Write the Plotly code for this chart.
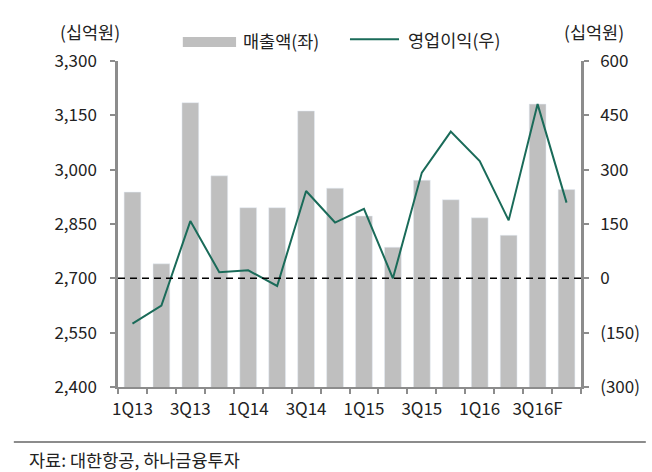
"""Korean Air quarterly revenue vs operating profit (bar + line, dual axis)."""

import plotly.graph_objects as go

QUARTERS = [
    "1Q13", "2Q13", "3Q13", "4Q13",
    "1Q14", "2Q14", "3Q14", "4Q14",
    "1Q15", "2Q15", "3Q15", "4Q15",
    "1Q16", "2Q16", "3Q16F", "4Q16F",
]
# 매출액 (좌축, 십억원)
REVENUE = [2938, 2740, 3185, 2983, 2895, 2895, 3162, 2949,
           2872, 2786, 2971, 2917, 2867, 2819, 3181, 2945]
# 영업이익 (우축, 십억원)
OP_PROFIT = [-125, -75, 158, 17, 22, -21, 241, 154,
             192, 0, 292, 405, 324, 160, 481, 209]

LEFT_TICKS = [2400, 2550, 2700, 2850, 3000, 3150, 3300]
RIGHT_TICKS = [-300, -150, 0, 150, 300, 450, 600]
RIGHT_TICK_TEXT = ["(300)", "(150)", "0", "150", "300", "450", "600"]
X_LABELS = ["1Q13", "", "3Q13", "", "1Q14", "", "3Q14", "", "1Q15", "", "3Q15", "",
            "1Q16", "", "3Q16F", ""]

FONT = "Noto Sans CJK KR"
AXIS_GRAY = "#8c8c8c"
BAR_GRAY = "#bfbfbf"
LINE_GREEN = "#1a6b59"
TEXT = "#222222"

fig = go.Figure()
fig.add_trace(go.Bar(
    x=QUARTERS, y=REVENUE, name="매출액(좌)",
    marker_color=BAR_GRAY, width=0.58, showlegend=False,
))
fig.add_trace(go.Scatter(
    x=QUARTERS, y=OP_PROFIT, name="영업이익(우)", yaxis="y2",
    mode="lines", line=dict(color=LINE_GREEN, width=2), showlegend=False,
))

# zero / 2,700 reference line
fig.add_shape(type="line", xref="paper", x0=0, x1=1, yref="y", y0=2700, y1=2700,
              line=dict(color="black", width=1.5, dash="7px,5px"))

# hand-drawn legend
fig.add_shape(type="rect", xref="paper", yref="paper", x0=0.140, x1=0.255,
              y0=1.043, y1=1.074, fillcolor=BAR_GRAY, line_width=0)
fig.add_shape(type="line", xref="paper", yref="paper", x0=0.501, x1=0.607,
              y0=1.067, y1=1.067, line=dict(color=LINE_GREEN, width=2))
# footer rule
fig.add_shape(type="line", xref="paper", yref="paper", x0=-0.225, x1=1.14,
              y0=-0.169, y1=-0.169, line=dict(color=AXIS_GRAY, width=2))

ann = dict(xref="paper", yref="paper", showarrow=False,
           font=dict(family=FONT, size=17.5, color=TEXT))
fig.add_annotation(text="매출액(좌)", x=0.265, y=1.064, xanchor="left", yanchor="middle", **ann)
fig.add_annotation(text="영업이익(우)", x=0.622, y=1.067, xanchor="left", yanchor="middle", **ann)
fig.add_annotation(text="(십억원)", x=-0.06, y=1.089, xanchor="center", yanchor="middle", **ann)
fig.add_annotation(text="(십억원)", x=1.028, y=1.089, xanchor="center", yanchor="middle", **ann)
fig.add_annotation(text="자료: 대한항공, 하나금융투자", x=-0.197, y=-0.221,
                   xanchor="left", yanchor="middle", **ann)

tick_font = dict(family=FONT, size=17, color=TEXT)
fig.update_layout(
    width=652, height=472,
    margin=dict(l=118, r=63, t=61, b=85),
    plot_bgcolor="white", paper_bgcolor="white",
    font=dict(family=FONT, size=16, color=TEXT),
    xaxis=dict(
        type="category", tickmode="array", tickvals=QUARTERS, ticktext=X_LABELS,
        tickson="boundaries", ticks="outside", ticklen=5, tickwidth=2, tickcolor=AXIS_GRAY,
        showline=True, linecolor=AXIS_GRAY, linewidth=2, showgrid=False,
        range=[-0.5, 15.5], tickangle=0, tickfont=tick_font, ticklabelstandoff=6,
    ),
    yaxis=dict(
        range=[2400, 3300], tickvals=LEFT_TICKS, tickformat=",",
        ticks="outside", ticklen=5, tickwidth=2, tickcolor=AXIS_GRAY, tickfont=tick_font,
        showline=True, linecolor=AXIS_GRAY, linewidth=2.5, showgrid=False, zeroline=False,
        ticklabelstandoff=10,
    ),
    yaxis2=dict(
        overlaying="y", side="right", range=[-300, 600],
        tickvals=RIGHT_TICKS, ticktext=RIGHT_TICK_TEXT, tickfont=tick_font,
        ticks="outside", ticklen=5, tickwidth=2, tickcolor=AXIS_GRAY,
        showline=True, linecolor=AXIS_GRAY, linewidth=2.5, showgrid=False, zeroline=False,
        ticklabelstandoff=8,
    ),
)

fig.write_html(
    "out.html",
    config={"displayModeBar": False},
    post_script="document.body.style.margin = '0';",
)
